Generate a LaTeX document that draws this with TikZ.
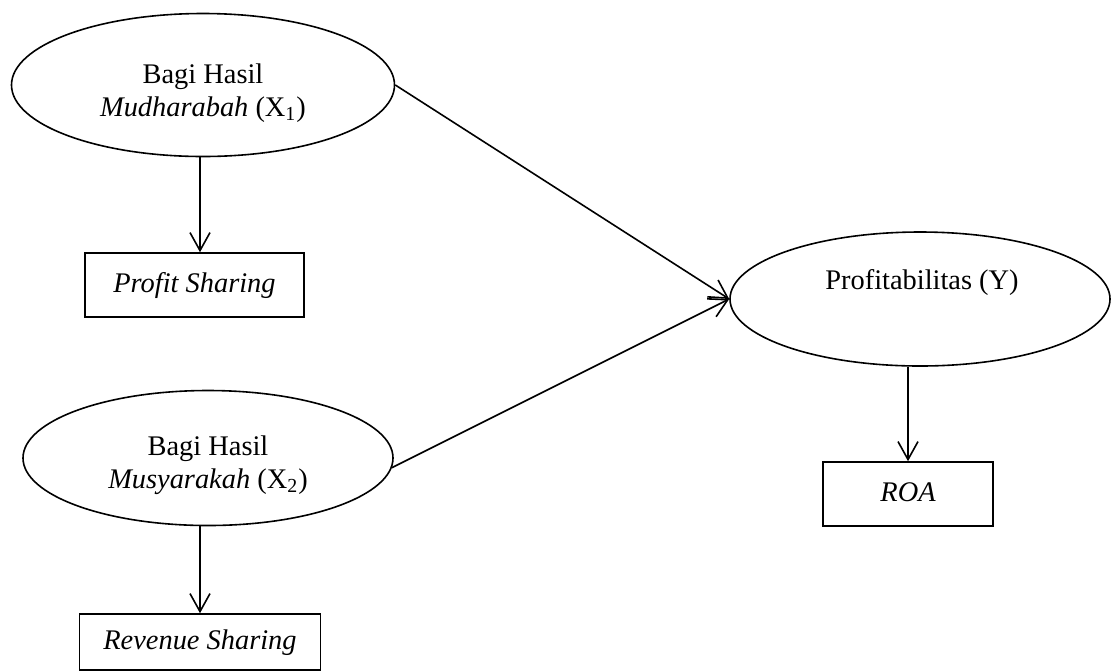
\documentclass[tikz,border=0pt]{standalone}
\usepackage{fontspec}
\setmainfont{Liberation Serif}
\usetikzlibrary{arrows.meta,shapes.geometric,calc}
\newcommand{\diagfont}{\fontsize{14.2}{16.5}\selectfont}
\tikzset{
  ell/.style={draw, ellipse, inner sep=0pt, line width=0.8pt},
  boxnode/.style={draw, rectangle, inner sep=0pt, line width=0.8pt, font=\diagfont\itshape, text height=10pt, text depth=3pt},
  txt/.style={inner sep=0pt, align=center},
  arr/.style={line width=0.8pt, -{Straight Barb[length=9pt,width=10pt,line width=0.8pt]}}
}
\begin{document}
\begin{tikzpicture}[x=0.5pt, y=-0.5pt, font=\diagfont]
\useasboundingbox (0,0) rectangle (1112,671);
% ellipses
\node[ell, minimum width=191.5pt, minimum height=71.5pt] (e1) at (203,85) {};
\node[ell, minimum width=185pt, minimum height=67.5pt] (e2) at (208,458) {};
\node[ell, minimum width=190pt, minimum height=67pt] (ey) at (920,299) {};
% ellipse texts
\node[txt] (t1) at (203,93) {Bagi Hasil\\\textit{Mudharabah} (X\textsubscript{1})};
\node[txt] (t2) at (208,465) {Bagi Hasil\\\textit{Musyarakah} (X\textsubscript{2})};
\node[txt] (ty) at (922,283) {Profitabilitas (Y)};
% boxes
\node[boxnode, minimum width=109.5pt, minimum height=32pt] (b1) at (194.5,285) {Profit Sharing};
\node[boxnode, minimum width=120.5pt, minimum height=28pt] (b2) at (200,642) {Revenue Sharing};
\node[boxnode, minimum width=85pt, minimum height=32pt] (roa) at (908,494) {ROA};
% connectors
\draw[arr] ([xshift=-1.5pt]e1.south) -- ([xshift=-1.5pt]e1.south |- b1.north);
\draw[arr] (b2.north |- e2.south) -- (b2.north);
\draw[arr] (roa.north |- ey.south) -- (roa.north);
\draw[arr] (e1.east) -- (ey.west);
\draw[arr] (e2.-3) -- (ey.west);
\end{tikzpicture}
\end{document}
